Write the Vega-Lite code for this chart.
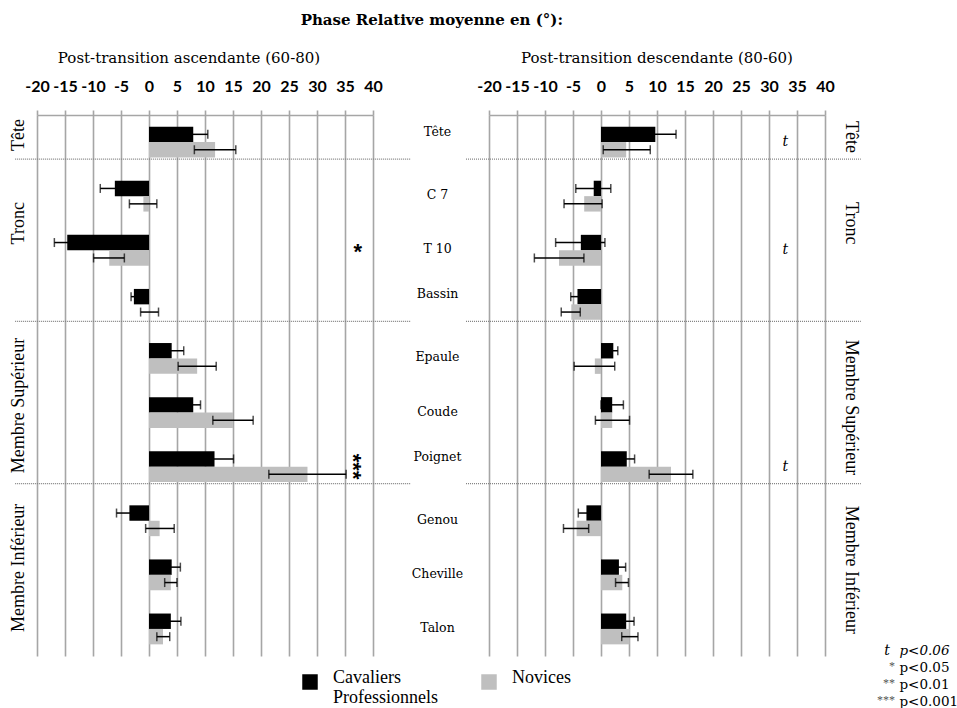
{
  "$schema": "https://vega.github.io/schema/vega-lite/v6.json",
  "padding": {"left": 9, "top": 13, "right": 0, "bottom": 0},
  "background": "white",
  "title": {"text": "Phase Relative moyenne en (°):", "font": "DejaVu Serif", "fontSize": 15, "fontWeight": "bold", "color": "#000", "anchor": "middle", "offset": 23, "dx": -52},
  "config": {
    "view": {"stroke": null},
    "title": {"font": "DejaVu Serif", "fontSize": 15, "fontWeight": "normal", "color": "#000"},
    "axisX": {"orient": "top", "values": [-20,-15,-10,-5,0,5,10,15,20,25,30,35,40], "labelExpr": "datum.value + ''", "grid": true, "gridColor": "#a6a6a6", "gridWidth": 1.6, "domainColor": "#a6a6a6", "domainWidth": 1.6, "tickColor": "#a6a6a6", "tickWidth": 1.6, "tickSize": 5, "labelFont": "Lato", "labelFontWeight": "bold", "labelFontSize": 16, "labelColor": "#000", "labelPadding": 16, "title": null, "labelFlush": false, "labelOverlap": false},
    "legend": {"orient": "none", "legendX": 264, "legendY": 558, "direction": "horizontal", "title": null, "symbolType": "square", "symbolSize": 240, "symbolStrokeWidth": 0, "labelFont": "Liberation Serif", "labelFontSize": 18, "labelColor": "#000", "labelOffset": 14, "columnPadding": 42, "labelLimit": 300}
  },
  "bounds": "flush",
  "spacing": 116,
  "datasets": {
    "phase": [
      {"panel": "asc", "cat": "Tête", "grp": "Cavaliers Professionnels", "v": 7.9, "lo": 5.3, "hi": 10.5},
      {"panel": "asc", "cat": "Tête", "grp": "Novices", "v": 11.8, "lo": 8.1, "hi": 15.5},
      {"panel": "asc", "cat": "C 7", "grp": "Cavaliers Professionnels", "v": -6.1, "lo": -8.7, "hi": -3.5},
      {"panel": "asc", "cat": "C 7", "grp": "Novices", "v": -1.0, "lo": -3.5, "hi": 1.4},
      {"panel": "asc", "cat": "T 10", "grp": "Cavaliers Professionnels", "v": -14.6, "lo": -16.9, "hi": -12.3},
      {"panel": "asc", "cat": "T 10", "grp": "Novices", "v": -7.1, "lo": -9.9, "hi": -4.4},
      {"panel": "asc", "cat": "Bassin", "grp": "Cavaliers Professionnels", "v": -2.7, "lo": -3.2, "hi": -2.2},
      {"panel": "asc", "cat": "Bassin", "grp": "Novices", "v": 0.1, "lo": -1.5, "hi": 1.7},
      {"panel": "asc", "cat": "Epaule", "grp": "Cavaliers Professionnels", "v": 4.05, "lo": 1.9, "hi": 6.2},
      {"panel": "asc", "cat": "Epaule", "grp": "Novices", "v": 8.6, "lo": 5.2, "hi": 12.0},
      {"panel": "asc", "cat": "Coude", "grp": "Cavaliers Professionnels", "v": 7.9, "lo": 6.6, "hi": 9.2},
      {"panel": "asc", "cat": "Coude", "grp": "Novices", "v": 15.0, "lo": 11.4, "hi": 18.6},
      {"panel": "asc", "cat": "Poignet", "grp": "Cavaliers Professionnels", "v": 11.7, "lo": 8.3, "hi": 15.1},
      {"panel": "asc", "cat": "Poignet", "grp": "Novices", "v": 28.3, "lo": 21.4, "hi": 35.2},
      {"panel": "asc", "cat": "Genou", "grp": "Cavaliers Professionnels", "v": -3.5, "lo": -5.8, "hi": -1.2},
      {"panel": "asc", "cat": "Genou", "grp": "Novices", "v": 1.9, "lo": -0.6, "hi": 4.5},
      {"panel": "asc", "cat": "Cheville", "grp": "Cavaliers Professionnels", "v": 4.05, "lo": 2.5, "hi": 5.6},
      {"panel": "asc", "cat": "Cheville", "grp": "Novices", "v": 3.9, "lo": 2.8, "hi": 5.0},
      {"panel": "asc", "cat": "Talon", "grp": "Cavaliers Professionnels", "v": 3.9, "lo": 2.1, "hi": 5.7},
      {"panel": "asc", "cat": "Talon", "grp": "Novices", "v": 2.5, "lo": 1.4, "hi": 3.7},
      {"panel": "desc", "cat": "Tête", "grp": "Cavaliers Professionnels", "v": 9.7, "lo": 6.0, "hi": 13.4},
      {"panel": "desc", "cat": "Tête", "grp": "Novices", "v": 4.5, "lo": 0.4, "hi": 8.8},
      {"panel": "desc", "cat": "C 7", "grp": "Cavaliers Professionnels", "v": -1.3, "lo": -4.5, "hi": 1.75},
      {"panel": "desc", "cat": "C 7", "grp": "Novices", "v": -3.0, "lo": -6.6, "hi": 0.2},
      {"panel": "desc", "cat": "T 10", "grp": "Cavaliers Professionnels", "v": -3.6, "lo": -8.1, "hi": 0.7},
      {"panel": "desc", "cat": "T 10", "grp": "Novices", "v": -7.5, "lo": -11.9, "hi": -3.05},
      {"panel": "desc", "cat": "Bassin", "grp": "Cavaliers Professionnels", "v": -4.2, "lo": -5.4, "hi": -3.0},
      {"panel": "desc", "cat": "Bassin", "grp": "Novices", "v": -5.3, "lo": -7.1, "hi": -3.7},
      {"panel": "desc", "cat": "Epaule", "grp": "Cavaliers Professionnels", "v": 2.2, "lo": 1.4, "hi": 3.0},
      {"panel": "desc", "cat": "Epaule", "grp": "Novices", "v": -1.1, "lo": -4.8, "hi": 2.45},
      {"panel": "desc", "cat": "Coude", "grp": "Cavaliers Professionnels", "v": 2.0, "lo": 0.0, "hi": 4.0},
      {"panel": "desc", "cat": "Coude", "grp": "Novices", "v": 2.0, "lo": -1.0, "hi": 5.1},
      {"panel": "desc", "cat": "Poignet", "grp": "Cavaliers Professionnels", "v": 4.6, "lo": 3.2, "hi": 6.0},
      {"panel": "desc", "cat": "Poignet", "grp": "Novices", "v": 12.5, "lo": 8.6, "hi": 16.4},
      {"panel": "desc", "cat": "Genou", "grp": "Cavaliers Professionnels", "v": -2.6, "lo": -4.05, "hi": -1.15},
      {"panel": "desc", "cat": "Genou", "grp": "Novices", "v": -4.35, "lo": -6.7, "hi": -2.2},
      {"panel": "desc", "cat": "Cheville", "grp": "Cavaliers Professionnels", "v": 3.2, "lo": 2.0, "hi": 4.4},
      {"panel": "desc", "cat": "Cheville", "grp": "Novices", "v": 3.8, "lo": 2.6, "hi": 4.9},
      {"panel": "desc", "cat": "Talon", "grp": "Cavaliers Professionnels", "v": 4.5, "lo": 3.1, "hi": 5.9},
      {"panel": "desc", "cat": "Talon", "grp": "Novices", "v": 5.1, "lo": 3.7, "hi": 6.6}
    ],
    "groups": [
      {"grp": "Tête", "anchor": "Tête"},
      {"grp": "Tronc", "anchor": "T 10"},
      {"grp": "Membre Supérieur", "anchor": "Coude"},
      {"grp": "Membre Inférieur", "anchor": "Cheville"}
    ],
    "seps": [{"after": "Tête"}, {"after": "Bassin"}, {"after": "Poignet"}],
    "sig": [
      {"panel": "asc", "cat": "T 10", "mark": "*"},
      {"panel": "asc", "cat": "Poignet", "mark": "***"},
      {"panel": "desc", "cat": "Tête", "mark": "t"},
      {"panel": "desc", "cat": "T 10", "mark": "t"},
      {"panel": "desc", "cat": "Poignet", "mark": "t"}
    ],
    "pkey": [
      {"stars": "t", "p": "p<0.06", "cat": "Talon"}
    ],
    "pkey2": [
      {"stars": "*\n**\n***", "p": "p<0.05\np<0.01\np<0.001", "cat": "Talon"}
    ]
  },
  "hconcat": [
    {
      "width": 336,
      "height": 541,
      "title": {"text": "Post-transition ascendante (60-80)", "dx": -16, "offset": 12},
      "layer": [
        {
          "data": {"name": "phase"},
          "transform": [{"filter": "datum.panel == 'asc'"}],
          "mark": {"type": "bar"},
          "encoding": {
            "x": {"field": "v", "type": "quantitative", "scale": {"domain": [-20, 40], "nice": false}},
            "y": {"field": "cat", "type": "nominal", "scale": {"domain": ["Tête","C 7","T 10","Bassin","Epaule","Coude","Poignet","Genou","Cheville","Talon"], "paddingInner": 0.43, "paddingOuter": 0.215}, "axis": null},
            "yOffset": {"field": "grp", "type": "nominal", "scale": {"domain": ["Cavaliers Professionnels", "Novices"]}},
            "color": {"field": "grp", "type": "nominal", "scale": {"domain": ["Cavaliers Professionnels", "Novices"], "range": ["#000000", "#bfbfbf"]}, "legend": {"labelExpr": "datum.label == 'Cavaliers Professionnels' ? ['Cavaliers', 'Professionnels'] : [datum.label, '']", "encode": {"labels": {"update": {"dy": {"value": -4}}}}}}
          }
        },
        {
          "data": {"name": "phase"},
          "transform": [{"filter": "datum.panel == 'asc'"}],
          "mark": {"type": "rule", "color": "#000", "strokeWidth": 1.5},
          "encoding": {
            "x": {"field": "lo", "type": "quantitative"},
            "x2": {"field": "hi"},
            "y": {"field": "cat", "type": "nominal"},
            "yOffset": {"field": "grp", "type": "nominal"}
          }
        },
        {
          "data": {"name": "phase"},
          "transform": [{"filter": "datum.panel == 'asc'"}],
          "mark": {"type": "tick", "color": "#000", "thickness": 1.5, "size": 9},
          "encoding": {
            "x": {"field": "lo", "type": "quantitative"},
            "y": {"field": "cat", "type": "nominal"},
            "yOffset": {"field": "grp", "type": "nominal"}
          }
        },
        {
          "data": {"name": "phase"},
          "transform": [{"filter": "datum.panel == 'asc'"}],
          "mark": {"type": "tick", "color": "#000", "thickness": 1.5, "size": 9},
          "encoding": {
            "x": {"field": "hi", "type": "quantitative"},
            "y": {"field": "cat", "type": "nominal"},
            "yOffset": {"field": "grp", "type": "nominal"}
          }
        },
        {
          "mark": {"type": "rule", "color": "#000", "strokeWidth": 3},
          "encoding": {"x": {"datum": 0}}
        },
        {
          "data": {"name": "seps"},
          "mark": {"type": "rule", "color": "#808080", "strokeWidth": 1.3, "strokeDash": [1, 1], "yOffset": 17},
          "encoding": {
            "y": {"field": "after", "type": "nominal"},
            "x": {"datum": -23.9},
            "x2": {"datum": 46.8}
          }
        },
        {
          "data": {"name": "groups"},
          "transform": [{"filter": "datum.grp != 'Tronc'"}],
          "mark": {"type": "text", "font": "Liberation Serif", "fontSize": 18, "angle": 270, "align": "center", "baseline": "middle", "yOffset": -7, "color": "#000"},
          "encoding": {
            "y": {"field": "anchor", "type": "nominal"},
            "x": {"datum": -23.3},
            "text": {"field": "grp"}
          }
        },
        {
          "data": {"name": "groups"},
          "transform": [{"filter": "datum.grp == 'Tronc'"}],
          "mark": {"type": "text", "font": "Liberation Serif", "fontSize": 18, "angle": 270, "align": "center", "baseline": "middle", "yOffset": -27, "color": "#000"},
          "encoding": {
            "y": {"field": "anchor", "type": "nominal"},
            "x": {"datum": -23.3},
            "text": {"field": "grp"}
          }
        },
        {
          "data": {"name": "sig"},
          "transform": [{"filter": "datum.panel == 'asc' && datum.mark == '***'"}],
          "mark": {"type": "text", "font": "Liberation Sans", "fontSize": 22, "fontWeight": "bold", "angle": 90, "align": "center", "baseline": "middle", "color": "#000", "dy": 5},
          "encoding": {
            "y": {"field": "cat", "type": "nominal"},
            "x": {"datum": 37.3},
            "text": {"field": "mark"}
          }
        },
        {
          "data": {"name": "sig"},
          "transform": [{"filter": "datum.panel == 'asc' && datum.mark == '*'"}],
          "mark": {"type": "text", "font": "Liberation Sans", "fontSize": 22, "fontWeight": "bold", "align": "center", "baseline": "middle", "color": "#000", "dy": 2},
          "encoding": {
            "y": {"field": "cat", "type": "nominal"},
            "x": {"datum": 37.3},
            "text": {"field": "mark"}
          }
        }
      ]
    },
    {
      "width": 336,
      "height": 541,
      "title": {"text": "Post-transition descendante (80-60)", "dx": 0, "offset": 12},
      "layer": [
        {
          "data": {"name": "phase"},
          "transform": [{"filter": "datum.panel == 'desc'"}],
          "mark": {"type": "bar"},
          "encoding": {
            "x": {"field": "v", "type": "quantitative", "scale": {"domain": [-20, 40], "nice": false}},
            "y": {"field": "cat", "type": "nominal", "scale": {"domain": ["Tête","C 7","T 10","Bassin","Epaule","Coude","Poignet","Genou","Cheville","Talon"], "paddingInner": 0.43, "paddingOuter": 0.215}, "axis": {"orient": "left", "labelAlign": "center", "labelBaseline": "middle", "labelPadding": 52, "labelOffset": {"condition": {"test": "datum.value == 'Tête' || datum.value == 'Bassin' || datum.value == 'Poignet'", "value": -10}, "value": -1}, "ticks": false, "domain": false, "grid": false, "labelFont": "DejaVu Serif", "labelFontSize": 12.5, "labelColor": "#000", "title": null}},
            "yOffset": {"field": "grp", "type": "nominal", "scale": {"domain": ["Cavaliers Professionnels", "Novices"]}},
            "color": {"field": "grp", "type": "nominal", "scale": {"domain": ["Cavaliers Professionnels", "Novices"], "range": ["#000000", "#bfbfbf"]}}
          }
        },
        {
          "data": {"name": "phase"},
          "transform": [{"filter": "datum.panel == 'desc'"}],
          "mark": {"type": "rule", "color": "#000", "strokeWidth": 1.5},
          "encoding": {
            "x": {"field": "lo", "type": "quantitative"},
            "x2": {"field": "hi"},
            "y": {"field": "cat", "type": "nominal"},
            "yOffset": {"field": "grp", "type": "nominal"}
          }
        },
        {
          "data": {"name": "phase"},
          "transform": [{"filter": "datum.panel == 'desc'"}],
          "mark": {"type": "tick", "color": "#000", "thickness": 1.5, "size": 9},
          "encoding": {
            "x": {"field": "lo", "type": "quantitative"},
            "y": {"field": "cat", "type": "nominal"},
            "yOffset": {"field": "grp", "type": "nominal"}
          }
        },
        {
          "data": {"name": "phase"},
          "transform": [{"filter": "datum.panel == 'desc'"}],
          "mark": {"type": "tick", "color": "#000", "thickness": 1.5, "size": 9},
          "encoding": {
            "x": {"field": "hi", "type": "quantitative"},
            "y": {"field": "cat", "type": "nominal"},
            "yOffset": {"field": "grp", "type": "nominal"}
          }
        },
        {
          "mark": {"type": "rule", "color": "#000", "strokeWidth": 3},
          "encoding": {"x": {"datum": 0}}
        },
        {
          "data": {"name": "seps"},
          "mark": {"type": "rule", "color": "#808080", "strokeWidth": 1.3, "strokeDash": [1, 1], "yOffset": 17},
          "encoding": {
            "y": {"field": "after", "type": "nominal"},
            "x": {"datum": -24.1},
            "x2": {"datum": 46.4}
          }
        },
        {
          "data": {"name": "groups"},
          "transform": [{"filter": "datum.grp != 'Tronc'"}],
          "mark": {"type": "text", "font": "Liberation Serif", "fontSize": 18, "angle": 90, "align": "center", "baseline": "middle", "yOffset": -5, "color": "#000"},
          "encoding": {
            "y": {"field": "anchor", "type": "nominal"},
            "x": {"datum": 44.6},
            "text": {"field": "grp"}
          }
        },
        {
          "data": {"name": "groups"},
          "transform": [{"filter": "datum.grp == 'Tronc'"}],
          "mark": {"type": "text", "font": "Liberation Serif", "fontSize": 18, "angle": 90, "align": "center", "baseline": "middle", "yOffset": -27, "color": "#000"},
          "encoding": {
            "y": {"field": "anchor", "type": "nominal"},
            "x": {"datum": 44.6},
            "text": {"field": "grp"}
          }
        },
        {
          "data": {"name": "sig"},
          "transform": [{"filter": "datum.panel == 'desc'"}],
          "mark": {"type": "text", "font": "DejaVu Serif", "fontSize": 14, "fontStyle": "italic", "align": "center", "baseline": "middle", "color": "#000"},
          "encoding": {
            "y": {"field": "cat", "type": "nominal"},
            "x": {"datum": 32.9},
            "text": {"field": "mark"}
          }
        },
        {
          "data": {"name": "pkey"},
          "mark": {"type": "text", "font": "DejaVu Serif", "fontSize": 14, "fontStyle": "italic", "align": "right", "baseline": "middle", "dy": 22, "color": "#000"},
          "encoding": {"y": {"field": "cat", "type": "nominal"}, "x": {"datum": 51.6}, "text": {"field": "stars"}}
        },
        {
          "data": {"name": "pkey"},
          "mark": {"type": "text", "font": "DejaVu Serif", "fontSize": 13.5, "fontStyle": "italic", "align": "left", "baseline": "middle", "dy": 22, "color": "#000"},
          "encoding": {"y": {"field": "cat", "type": "nominal"}, "x": {"datum": 53.3}, "text": {"field": "p"}}
        },
        {
          "data": {"name": "pkey2"},
          "mark": {"type": "text", "font": "Liberation Serif", "fontSize": 12, "lineHeight": 17, "lineBreak": "\n", "align": "right", "baseline": "middle", "dy": 37, "color": "#555"},
          "encoding": {"y": {"field": "cat", "type": "nominal"}, "x": {"datum": 52.5}, "text": {"field": "stars"}}
        },
        {
          "data": {"name": "pkey2"},
          "mark": {"type": "text", "font": "DejaVu Serif", "fontSize": 13.5, "lineHeight": 17, "lineBreak": "\n", "align": "left", "baseline": "middle", "dy": 39, "color": "#000"},
          "encoding": {"y": {"field": "cat", "type": "nominal"}, "x": {"datum": 53.3}, "text": {"field": "p"}}
        }
      ]
    }
  ]
}
